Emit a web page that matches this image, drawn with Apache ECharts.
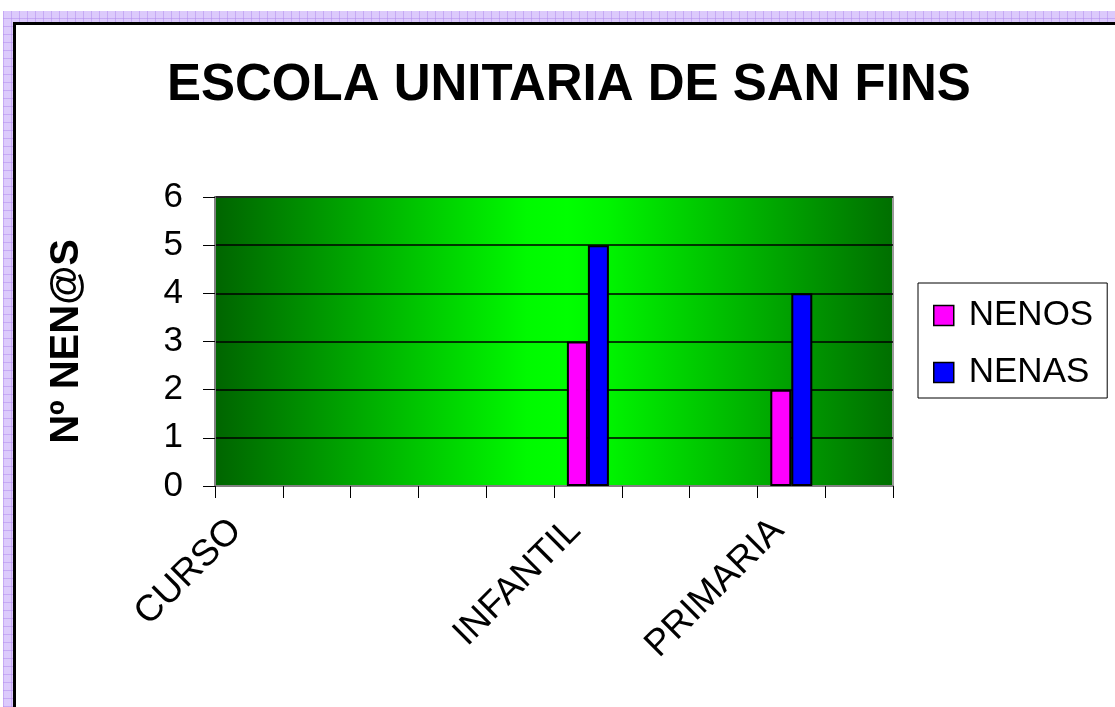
<!DOCTYPE html>
<html>
<head>
<meta charset="utf-8">
<script src="https://cdn.jsdelivr.net/npm/echarts@6/dist/echarts.min.js"></script>
<style>
  html, body { margin: 0; padding: 0; width: 1115px; height: 707px; overflow: hidden; background: #fff; }
  .lilac {
    position: absolute; left: 3px; top: 11px; width: 1200px; height: 800px;
    background-color: #dccafc;
    background-image:
      repeating-linear-gradient(0deg, rgba(170,130,235,0.45) 0 1px, transparent 1px 8px),
      repeating-linear-gradient(90deg, rgba(170,130,235,0.45) 0 1px, transparent 1px 8px);
  }
  .sheet {
    position: absolute; left: 13px; top: 22px; width: 1200px; height: 800px;
    background: #fff; border-left: 3px solid #000; border-top: 3px solid #000;
  }
  #chart { position: absolute; left: 0; top: 0; width: 1115px; height: 707px; }
</style>
</head>
<body>
<div class="lilac"></div>
<div class="sheet"></div>
<div id="chart"></div>
<script>
// categorias do eixo X (so tres levan texto)
const cursos = ['CURSO', '', '', '', '', 'INFANTIL', '', '', 'PRIMARIA', '']
const nenos = [null, null, null, null, null, 3, null, null, 2, null]
const nenas = [null, null, null, null, null, 5, null, null, 4, null]
const yMin = 0
const yMax = 6
const yStep = 1

const chart = echarts.init(document.getElementById('chart'), null, { renderer: 'canvas' })

const fondo = new echarts.graphic.LinearGradient(0, 0, 1, 0, [
  { offset: 0, color: '#006400' },
  { offset: 0.46, color: '#00fa00' },
  { offset: 0.52, color: '#00ff00' },
  { offset: 0.58, color: '#00f400' },
  { offset: 1, color: '#006e00' }
])

const option = {
  backgroundColor: 'transparent',
  animation: false,
  title: {
    text: 'ESCOLA UNITARIA DE SAN FINS',
    left: 167,
    top: 60,
    padding: 0,
    textStyle: {
      fontFamily: 'Liberation Sans, Arial, sans-serif',
      fontSize: 51,
      fontWeight: 'bold',
      color: '#000'
    }
  },
  legend: {
    orient: 'vertical',
    left: 918,
    top: 283,
    padding: [15, 14, 8, 15],
    itemWidth: 20,
    itemHeight: 20,
    itemGap: 22,
    backgroundColor: '#fff',
    borderColor: '#000',
    borderWidth: 1,
    icon: 'rect',
    itemStyle: { borderColor: '#000', borderWidth: 1.5 },
    textStyle: {
      fontFamily: 'Liberation Sans, Arial, sans-serif',
      fontSize: 35,
      color: '#000',
      padding: [0, 0, 0, 10]
    },
    data: ['NENOS', 'NENAS']
  },
  grid: {
    left: 215,
    top: 197,
    right: 222,
    bottom: 221,
    outerBoundsMode: 'none',
    containLabel: false,
    show: true,
    backgroundColor: fondo,
    borderColor: '#9a9a9a',
    borderWidth: 2
  },
  xAxis: {
    type: 'category',
    data: cursos,
    boundaryGap: true,
    axisLine: { show: true, lineStyle: { color: '#808080', width: 2 } },
    axisTick: { show: true, interval: 0, length: 12, lineStyle: { color: '#000', width: 1 } },
    axisLabel: {
      interval: 0,
      rotate: 45,
      margin: 52,
      align: 'right',
      verticalAlign: 'bottom',
      fontFamily: 'Liberation Sans, Arial, sans-serif',
      fontSize: 37,
      color: '#000'
    },
    splitLine: { show: false }
  },
  yAxis: {
    type: 'value',
    min: yMin,
    max: yMax,
    interval: yStep,
    name: 'Nº NEN@S',
    nameLocation: 'middle',
    nameRotate: 90,
    nameGap: 128,
    nameTextStyle: {
      fontFamily: 'Liberation Sans, Arial, sans-serif',
      fontSize: 40,
      fontWeight: 'bold',
      color: '#000'
    },
    axisLine: { show: true, lineStyle: { color: '#808080', width: 2 } },
    axisTick: { show: true, length: 12, lineStyle: { color: '#000', width: 1 } },
    axisLabel: {
      margin: 32,
      fontFamily: 'Liberation Sans, Arial, sans-serif',
      fontSize: 35,
      color: '#000'
    },
    splitLine: { show: true, lineStyle: { color: '#000', width: 1.5 } }
  },
  series: [
    {
      name: 'NENOS',
      type: 'bar',
      data: nenos,
      barWidth: 21,
      barGap: '0%',
      itemStyle: { color: '#ff00ff', borderColor: '#000', borderWidth: 2 }
    },
    {
      name: 'NENAS',
      type: 'bar',
      data: nenas,
      barWidth: 21,
      barGap: '0%',
      itemStyle: { color: '#0000ff', borderColor: '#000', borderWidth: 2 }
    }
  ]
}

chart.setOption(option)
</script>
</body>
</html>
